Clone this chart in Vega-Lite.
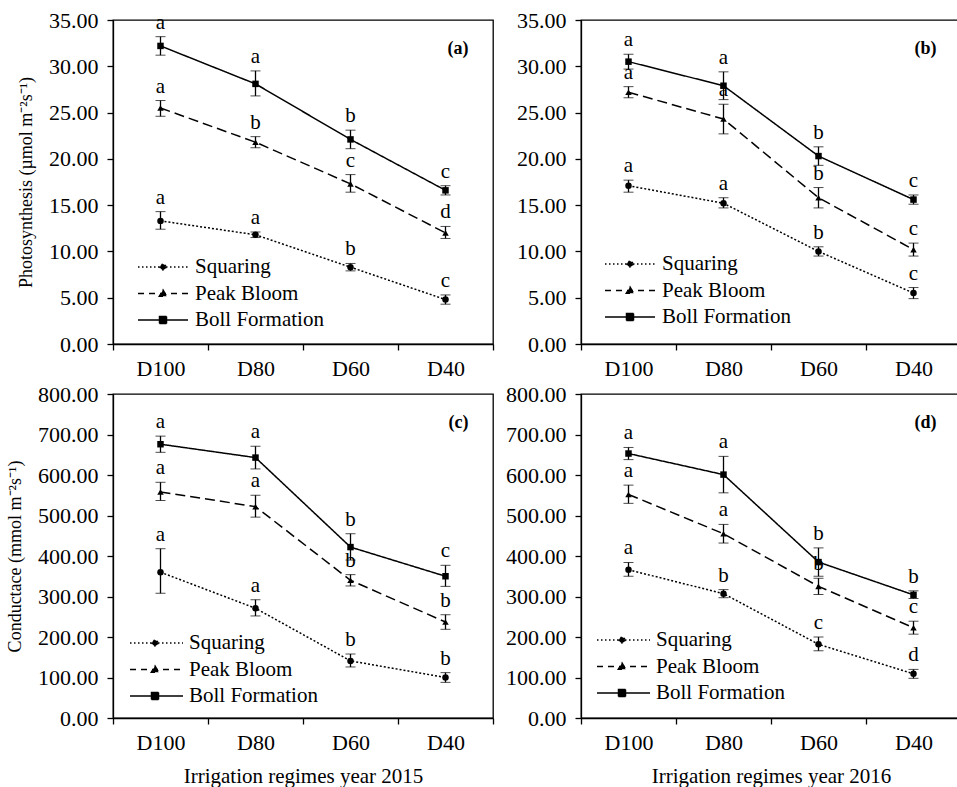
{
  "$schema": "https://vega.github.io/schema/vega-lite/v6.json",
  "padding": {"left": 5, "top": 8, "right": 0, "bottom": 0},
  "background": "white",
  "config": {
    "font": "Liberation Serif",
    "view": {"stroke": "black", "strokeWidth": 1.3},
    "style": {"guide-label": {"font": "Liberation Serif"}},
    "axis": {
      "domainColor": "black", "domainWidth": 1.3, "tickColor": "black", "tickWidth": 1.3, "tickSize": 6,
      "labelColor": "black", "titleColor": "black", "labelFont": "Liberation Serif", "titleFont": "Liberation Serif",
      "labelFontSize": 22, "grid": false, "titleFontWeight": "normal"
    },
    "legend": {
      "title": null, "orient": "none", "padding": 0, "symbolSize": 400, "labelFontSize": 21, "labelFont": "Liberation Serif",
      "labelColor": "black", "labelOffset": 36, "rowPadding": 5.5
    }
  },
  "datasets": {
    "gas": [
      {"p": "a", "s": "Boll Formation", "r": "D100", "m": 32.2, "lo": 31.2, "hi": 33.2, "L": "a"},
      {"p": "a", "s": "Boll Formation", "r": "D80", "m": 28.1, "lo": 26.8, "hi": 29.5, "L": "a"},
      {"p": "a", "s": "Boll Formation", "r": "D60", "m": 22.1, "lo": 21.1, "hi": 23.1, "L": "b"},
      {"p": "a", "s": "Boll Formation", "r": "D40", "m": 16.6, "lo": 16.1, "hi": 17.1, "L": "c"},
      {"p": "a", "s": "Peak Bloom", "r": "D100", "m": 25.5, "lo": 24.6, "hi": 26.3, "L": "a"},
      {"p": "a", "s": "Peak Bloom", "r": "D80", "m": 21.8, "lo": 21.2, "hi": 22.4, "L": "b"},
      {"p": "a", "s": "Peak Bloom", "r": "D60", "m": 17.3, "lo": 16.4, "hi": 18.3, "L": "c"},
      {"p": "a", "s": "Peak Bloom", "r": "D40", "m": 12.0, "lo": 11.4, "hi": 12.7, "L": "d"},
      {"p": "a", "s": "Squaring", "r": "D100", "m": 13.3, "lo": 12.4, "hi": 14.3, "L": "a"},
      {"p": "a", "s": "Squaring", "r": "D80", "m": 11.8, "lo": 11.5, "hi": 12.1, "L": "a"},
      {"p": "a", "s": "Squaring", "r": "D60", "m": 8.3, "lo": 7.9, "hi": 8.7, "L": "b"},
      {"p": "a", "s": "Squaring", "r": "D40", "m": 4.8, "lo": 4.3, "hi": 5.3, "L": "c"},

      {"p": "b", "s": "Boll Formation", "r": "D100", "m": 30.5, "lo": 29.7, "hi": 31.3, "L": "a"},
      {"p": "b", "s": "Boll Formation", "r": "D80", "m": 27.9, "lo": 26.4, "hi": 29.4, "L": "a"},
      {"p": "b", "s": "Boll Formation", "r": "D60", "m": 20.3, "lo": 19.3, "hi": 21.3, "L": "b"},
      {"p": "b", "s": "Boll Formation", "r": "D40", "m": 15.6, "lo": 15.1, "hi": 16.1, "L": "c"},
      {"p": "b", "s": "Peak Bloom", "r": "D100", "m": 27.2, "lo": 26.6, "hi": 27.8, "L": "a"},
      {"p": "b", "s": "Peak Bloom", "r": "D80", "m": 24.3, "lo": 22.7, "hi": 25.9, "L": "a"},
      {"p": "b", "s": "Peak Bloom", "r": "D60", "m": 15.8, "lo": 14.7, "hi": 16.9, "L": "b"},
      {"p": "b", "s": "Peak Bloom", "r": "D40", "m": 10.2, "lo": 9.5, "hi": 10.9, "L": "c"},
      {"p": "b", "s": "Squaring", "r": "D100", "m": 17.1, "lo": 16.4, "hi": 17.7, "L": "a"},
      {"p": "b", "s": "Squaring", "r": "D80", "m": 15.2, "lo": 14.7, "hi": 15.8, "L": "a"},
      {"p": "b", "s": "Squaring", "r": "D60", "m": 10.0, "lo": 9.5, "hi": 10.5, "L": "b"},
      {"p": "b", "s": "Squaring", "r": "D40", "m": 5.5, "lo": 4.9, "hi": 6.1, "L": "c"}
    ],
    "cond": [
      {"p": "c", "s": "Boll Formation", "r": "D100", "m": 676, "lo": 656, "hi": 696, "L": "a"},
      {"p": "c", "s": "Boll Formation", "r": "D80", "m": 643, "lo": 615, "hi": 671, "L": "a"},
      {"p": "c", "s": "Boll Formation", "r": "D60", "m": 422, "lo": 390, "hi": 455, "L": "b"},
      {"p": "c", "s": "Boll Formation", "r": "D40", "m": 350, "lo": 325, "hi": 377, "L": "c"},
      {"p": "c", "s": "Peak Bloom", "r": "D100", "m": 558, "lo": 537, "hi": 582, "L": "a"},
      {"p": "c", "s": "Peak Bloom", "r": "D80", "m": 522, "lo": 496, "hi": 550, "L": "a"},
      {"p": "c", "s": "Peak Bloom", "r": "D60", "m": 340, "lo": 326, "hi": 354, "L": "b"},
      {"p": "c", "s": "Peak Bloom", "r": "D40", "m": 237, "lo": 219, "hi": 255, "L": "b"},
      {"p": "c", "s": "Squaring", "r": "D100", "m": 360, "lo": 308, "hi": 418, "L": "a"},
      {"p": "c", "s": "Squaring", "r": "D80", "m": 271, "lo": 252, "hi": 292, "L": "a"},
      {"p": "c", "s": "Squaring", "r": "D60", "m": 141, "lo": 126, "hi": 158, "L": "b"},
      {"p": "c", "s": "Squaring", "r": "D40", "m": 100, "lo": 88, "hi": 112, "L": "b"},

      {"p": "d", "s": "Boll Formation", "r": "D100", "m": 653, "lo": 638, "hi": 668, "L": "a"},
      {"p": "d", "s": "Boll Formation", "r": "D80", "m": 601, "lo": 556, "hi": 646, "L": "a"},
      {"p": "d", "s": "Boll Formation", "r": "D60", "m": 385, "lo": 350, "hi": 420, "L": "b"},
      {"p": "d", "s": "Boll Formation", "r": "D40", "m": 304, "lo": 295, "hi": 314, "L": "b"},
      {"p": "d", "s": "Peak Bloom", "r": "D100", "m": 552, "lo": 530, "hi": 575, "L": "a"},
      {"p": "d", "s": "Peak Bloom", "r": "D80", "m": 455, "lo": 432, "hi": 478, "L": "a"},
      {"p": "d", "s": "Peak Bloom", "r": "D60", "m": 325, "lo": 305, "hi": 345, "L": "b"},
      {"p": "d", "s": "Peak Bloom", "r": "D40", "m": 223, "lo": 207, "hi": 239, "L": "c"},
      {"p": "d", "s": "Squaring", "r": "D100", "m": 366, "lo": 350, "hi": 384, "L": "a"},
      {"p": "d", "s": "Squaring", "r": "D80", "m": 307, "lo": 297, "hi": 317, "L": "b"},
      {"p": "d", "s": "Squaring", "r": "D60", "m": 182, "lo": 166, "hi": 200, "L": "c"},
      {"p": "d", "s": "Squaring", "r": "D40", "m": 109, "lo": 98, "hi": 120, "L": "d"}
    ]
  },
  "columns": 2,
  "bounds": "flush",
  "spacing": {"row": 50, "column": 88},
  "resolve": {
    "scale": {"x": "independent", "y": "independent", "shape": "independent", "strokeDash": "independent"},
    "legend": {"shape": "independent", "strokeDash": "independent"}
  },
  "concat": [
    {
      "width": 380, "height": 324,
      "data": {"name": "gas"},
      "transform": [{"filter": "datum.p === 'a'"}],
      "resolve": {"scale": {"shape": "independent", "strokeDash": "independent"}, "legend": {"shape": "independent", "strokeDash": "independent"}},
      "encoding": {
        "x": {"field": "r", "type": "nominal", "sort": ["D100", "D80", "D60", "D40"],
          "scale": {"type": "band", "paddingInner": 0, "paddingOuter": 0, "domain": ["D100", "D80", "D60", "D40"]},
          "axis": {"title": null, "labelAngle": 0, "tickBand": "extent", "labelPadding": 8}}
      },
      "layer": [
        {"mark": {"type": "errorbar", "ticks": {"size": 10, "color": "black", "strokeWidth": 1.3}, "rule": {"color": "black", "strokeWidth": 1.3}, "color": "black"},
         "encoding": {
           "y": {"field": "lo", "type": "quantitative", "scale": {"domain": [0, 35]},
             "axis": {"title": "Photosynthesis (µmol m⁻²s⁻¹)", "values": [0, 5, 10, 15, 20, 25, 30, 35], "format": ".2f", "titleFontSize": 18, "titlePadding": 13, "labelPadding": 9}},
           "y2": {"field": "hi"},
           "detail": {"field": "s", "type": "nominal"}
         }},
        {"mark": {"type": "line", "color": "black", "strokeWidth": 1.5},
         "encoding": {
           "y": {"field": "m", "type": "quantitative"},
           "strokeDash": {"field": "s", "type": "nominal", "scale": {"domain": ["Boll Formation", "Peak Bloom", "Squaring"], "range": [[1, 0], [10, 5], [2, 2]]}, "legend": null}
         }},
        {"mark": {"type": "point", "filled": true, "color": "black", "opacity": 1, "size": 42},
         "encoding": {
           "y": {"field": "m", "type": "quantitative"},
           "shape": {"field": "s", "type": "nominal", "scale": {"domain": ["Boll Formation", "Peak Bloom", "Squaring"], "range": ["square", "triangle-up", "circle"]}, "legend": null}
         }},
        {"mark": {"type": "text", "fontSize": 21, "dy": -8, "baseline": "alphabetic", "color": "black"},
         "encoding": {"y": {"field": "hi", "type": "quantitative"}, "text": {"field": "L"}}},
        {"data": {"values": [{"lab": "(a)"}]},
         "mark": {"type": "text", "fontSize": 18, "fontWeight": "bold", "align": "right", "baseline": "alphabetic", "dx": 23, "color": "black"},
         "encoding": {"x": {"datum": "D40"}, "y": {"datum": 31.3}, "text": {"field": "lab"}}},
        {"transform": [{"filter": "false"}],
         "mark": {"type": "point", "filled": true, "fill": "black", "stroke": "black", "strokeWidth": 1.3, "opacity": 1},
         "encoding": {
           "y": {"field": "m", "type": "quantitative"},
           "shape": {"field": "s", "type": "nominal", "scale": {"domain": ["Squaring", "Peak Bloom", "Boll Formation"],
             "range": ["M-1,0L4,0M1.8,0L1.71,0.21L1.5,0.3L1.29,0.21L1.2,0L1.29,-0.21L1.5,-0.3L1.71,-0.21Z", "M-1,0L4,0M1.5,-0.35L1.87,0.28L1.13,0.28Z", "M-1,0L4,0M1.15,-0.35L1.85,-0.35L1.85,0.35L1.15,0.35Z"]},
             "legend": {"legendX": 24, "legendY": 236, "labelFont": "Liberation Serif"}},
           "strokeDash": {"field": "s", "type": "nominal", "scale": {"domain": ["Squaring", "Peak Bloom", "Boll Formation"], "range": [[1.5, 2.5], [6, 5], [1, 0]]},
             "legend": {"legendX": 24, "legendY": 236, "labelFont": "Liberation Serif"}}
         }}
      ]
    },
    {
      "width": 380, "height": 324,
      "data": {"name": "gas"},
      "transform": [{"filter": "datum.p === 'b'"}],
      "resolve": {"scale": {"shape": "independent", "strokeDash": "independent"}, "legend": {"shape": "independent", "strokeDash": "independent"}},
      "encoding": {
        "x": {"field": "r", "type": "nominal", "sort": ["D100", "D80", "D60", "D40"],
          "scale": {"type": "band", "paddingInner": 0, "paddingOuter": 0, "domain": ["D100", "D80", "D60", "D40"]},
          "axis": {"title": null, "labelAngle": 0, "tickBand": "extent", "labelPadding": 8}}
      },
      "layer": [
        {"mark": {"type": "errorbar", "ticks": {"size": 10, "color": "black", "strokeWidth": 1.3}, "rule": {"color": "black", "strokeWidth": 1.3}, "color": "black"},
         "encoding": {
           "y": {"field": "lo", "type": "quantitative", "scale": {"domain": [0, 35]},
             "axis": {"title": null, "values": [0, 5, 10, 15, 20, 25, 30, 35], "format": ".2f", "labelPadding": 9}},
           "y2": {"field": "hi"},
           "detail": {"field": "s", "type": "nominal"}
         }},
        {"mark": {"type": "line", "color": "black", "strokeWidth": 1.5},
         "encoding": {
           "y": {"field": "m", "type": "quantitative"},
           "strokeDash": {"field": "s", "type": "nominal", "scale": {"domain": ["Boll Formation", "Peak Bloom", "Squaring"], "range": [[1, 0], [10, 5], [2, 2]]}, "legend": null}
         }},
        {"mark": {"type": "point", "filled": true, "color": "black", "opacity": 1, "size": 42},
         "encoding": {
           "y": {"field": "m", "type": "quantitative"},
           "shape": {"field": "s", "type": "nominal", "scale": {"domain": ["Boll Formation", "Peak Bloom", "Squaring"], "range": ["square", "triangle-up", "circle"]}, "legend": null}
         }},
        {"mark": {"type": "text", "fontSize": 21, "dy": -8, "baseline": "alphabetic", "color": "black"},
         "encoding": {"y": {"field": "hi", "type": "quantitative"}, "text": {"field": "L"}}},
        {"data": {"values": [{"lab": "(b)"}]},
         "mark": {"type": "text", "fontSize": 18, "fontWeight": "bold", "align": "right", "baseline": "alphabetic", "dx": 23, "color": "black"},
         "encoding": {"x": {"datum": "D40"}, "y": {"datum": 31.3}, "text": {"field": "lab"}}},
        {"transform": [{"filter": "false"}],
         "mark": {"type": "point", "filled": true, "fill": "black", "stroke": "black", "strokeWidth": 1.3, "opacity": 1},
         "encoding": {
           "y": {"field": "m", "type": "quantitative"},
           "shape": {"field": "s", "type": "nominal", "scale": {"domain": ["Squaring", "Peak Bloom", "Boll Formation"],
             "range": ["M-1,0L4,0M1.8,0L1.71,0.21L1.5,0.3L1.29,0.21L1.2,0L1.29,-0.21L1.5,-0.3L1.71,-0.21Z", "M-1,0L4,0M1.5,-0.35L1.87,0.28L1.13,0.28Z", "M-1,0L4,0M1.15,-0.35L1.85,-0.35L1.85,0.35L1.15,0.35Z"]},
             "legend": {"legendX": 23, "legendY": 233, "labelFont": "Liberation Serif"}},
           "strokeDash": {"field": "s", "type": "nominal", "scale": {"domain": ["Squaring", "Peak Bloom", "Boll Formation"], "range": [[1.5, 2.5], [6, 5], [1, 0]]},
             "legend": {"legendX": 23, "legendY": 233, "labelFont": "Liberation Serif"}}
         }}
      ]
    },
    {
      "width": 380, "height": 324,
      "data": {"name": "cond"},
      "transform": [{"filter": "datum.p === 'c'"}],
      "resolve": {"scale": {"shape": "independent", "strokeDash": "independent"}, "legend": {"shape": "independent", "strokeDash": "independent"}},
      "encoding": {
        "x": {"field": "r", "type": "nominal", "sort": ["D100", "D80", "D60", "D40"],
          "scale": {"type": "band", "paddingInner": 0, "paddingOuter": 0, "domain": ["D100", "D80", "D60", "D40"]},
          "axis": {"title": "Irrigation regimes year 2015", "titleFontSize": 21, "titlePadding": 12, "labelAngle": 0, "tickBand": "extent", "labelPadding": 8}}
      },
      "layer": [
        {"mark": {"type": "errorbar", "ticks": {"size": 10, "color": "black", "strokeWidth": 1.3}, "rule": {"color": "black", "strokeWidth": 1.3}, "color": "black"},
         "encoding": {
           "y": {"field": "lo", "type": "quantitative", "scale": {"domain": [0, 800]},
             "axis": {"title": "Conductace (mmol  m⁻²s⁻¹)", "values": [0, 100, 200, 300, 400, 500, 600, 700, 800], "format": ".2f", "titleFontSize": 18, "titlePadding": 13, "labelPadding": 9}},
           "y2": {"field": "hi"},
           "detail": {"field": "s", "type": "nominal"}
         }},
        {"mark": {"type": "line", "color": "black", "strokeWidth": 1.5},
         "encoding": {
           "y": {"field": "m", "type": "quantitative"},
           "strokeDash": {"field": "s", "type": "nominal", "scale": {"domain": ["Boll Formation", "Peak Bloom", "Squaring"], "range": [[1, 0], [10, 5], [2, 2]]}, "legend": null}
         }},
        {"mark": {"type": "point", "filled": true, "color": "black", "opacity": 1, "size": 42},
         "encoding": {
           "y": {"field": "m", "type": "quantitative"},
           "shape": {"field": "s", "type": "nominal", "scale": {"domain": ["Boll Formation", "Peak Bloom", "Squaring"], "range": ["square", "triangle-up", "circle"]}, "legend": null}
         }},
        {"mark": {"type": "text", "fontSize": 21, "dy": -8, "baseline": "alphabetic", "color": "black"},
         "encoding": {"y": {"field": "hi", "type": "quantitative"}, "text": {"field": "L"}}},
        {"data": {"values": [{"lab": "(c)"}]},
         "mark": {"type": "text", "fontSize": 18, "fontWeight": "bold", "align": "right", "baseline": "alphabetic", "dx": 23, "color": "black"},
         "encoding": {"x": {"datum": "D40"}, "y": {"datum": 716}, "text": {"field": "lab"}}},
        {"transform": [{"filter": "false"}],
         "mark": {"type": "point", "filled": true, "fill": "black", "stroke": "black", "strokeWidth": 1.3, "opacity": 1},
         "encoding": {
           "y": {"field": "m", "type": "quantitative"},
           "shape": {"field": "s", "type": "nominal", "scale": {"domain": ["Squaring", "Peak Bloom", "Boll Formation"],
             "range": ["M-1,0L4.3,0M1.8,0L1.71,0.21L1.5,0.3L1.29,0.21L1.2,0L1.29,-0.21L1.5,-0.3L1.71,-0.21Z", "M-1,0L4.3,0M1.5,-0.35L1.87,0.28L1.13,0.28Z", "M-1,0L4.3,0M1.15,-0.35L1.85,-0.35L1.85,0.35L1.15,0.35Z"]},
             "legend": {"legendX": 16, "legendY": 238, "labelOffset": 38, "labelFont": "Liberation Serif"}},
           "strokeDash": {"field": "s", "type": "nominal", "scale": {"domain": ["Squaring", "Peak Bloom", "Boll Formation"], "range": [[1.5, 2.5], [6, 5], [1, 0]]},
             "legend": {"legendX": 16, "legendY": 238, "labelOffset": 38, "labelFont": "Liberation Serif"}}
         }}
      ]
    },
    {
      "width": 380, "height": 324,
      "data": {"name": "cond"},
      "transform": [{"filter": "datum.p === 'd'"}],
      "resolve": {"scale": {"shape": "independent", "strokeDash": "independent"}, "legend": {"shape": "independent", "strokeDash": "independent"}},
      "encoding": {
        "x": {"field": "r", "type": "nominal", "sort": ["D100", "D80", "D60", "D40"],
          "scale": {"type": "band", "paddingInner": 0, "paddingOuter": 0, "domain": ["D100", "D80", "D60", "D40"]},
          "axis": {"title": "Irrigation regimes year 2016", "titleFontSize": 21, "titlePadding": 12, "labelAngle": 0, "tickBand": "extent", "labelPadding": 8}}
      },
      "layer": [
        {"mark": {"type": "errorbar", "ticks": {"size": 10, "color": "black", "strokeWidth": 1.3}, "rule": {"color": "black", "strokeWidth": 1.3}, "color": "black"},
         "encoding": {
           "y": {"field": "lo", "type": "quantitative", "scale": {"domain": [0, 800]},
             "axis": {"title": null, "values": [0, 100, 200, 300, 400, 500, 600, 700, 800], "format": ".2f", "labelPadding": 9}},
           "y2": {"field": "hi"},
           "detail": {"field": "s", "type": "nominal"}
         }},
        {"mark": {"type": "line", "color": "black", "strokeWidth": 1.5},
         "encoding": {
           "y": {"field": "m", "type": "quantitative"},
           "strokeDash": {"field": "s", "type": "nominal", "scale": {"domain": ["Boll Formation", "Peak Bloom", "Squaring"], "range": [[1, 0], [10, 5], [2, 2]]}, "legend": null}
         }},
        {"mark": {"type": "point", "filled": true, "color": "black", "opacity": 1, "size": 42},
         "encoding": {
           "y": {"field": "m", "type": "quantitative"},
           "shape": {"field": "s", "type": "nominal", "scale": {"domain": ["Boll Formation", "Peak Bloom", "Squaring"], "range": ["square", "triangle-up", "circle"]}, "legend": null}
         }},
        {"mark": {"type": "text", "fontSize": 21, "dy": -8, "baseline": "alphabetic", "color": "black"},
         "encoding": {"y": {"field": "hi", "type": "quantitative"}, "text": {"field": "L"}}},
        {"data": {"values": [{"lab": "(d)"}]},
         "mark": {"type": "text", "fontSize": 18, "fontWeight": "bold", "align": "right", "baseline": "alphabetic", "dx": 23, "color": "black"},
         "encoding": {"x": {"datum": "D40"}, "y": {"datum": 716}, "text": {"field": "lab"}}},
        {"transform": [{"filter": "false"}],
         "mark": {"type": "point", "filled": true, "fill": "black", "stroke": "black", "strokeWidth": 1.3, "opacity": 1},
         "encoding": {
           "y": {"field": "m", "type": "quantitative"},
           "shape": {"field": "s", "type": "nominal", "scale": {"domain": ["Squaring", "Peak Bloom", "Boll Formation"],
             "range": ["M-1,0L4.3,0M1.8,0L1.71,0.21L1.5,0.3L1.29,0.21L1.2,0L1.29,-0.21L1.5,-0.3L1.71,-0.21Z", "M-1,0L4.3,0M1.5,-0.35L1.87,0.28L1.13,0.28Z", "M-1,0L4.3,0M1.15,-0.35L1.85,-0.35L1.85,0.35L1.15,0.35Z"]},
             "legend": {"legendX": 15, "legendY": 235, "labelOffset": 38, "labelFont": "Liberation Serif"}},
           "strokeDash": {"field": "s", "type": "nominal", "scale": {"domain": ["Squaring", "Peak Bloom", "Boll Formation"], "range": [[1.5, 2.5], [6, 5], [1, 0]]},
             "legend": {"legendX": 15, "legendY": 235, "labelOffset": 38, "labelFont": "Liberation Serif"}}
         }}
      ]
    }
  ]
}
